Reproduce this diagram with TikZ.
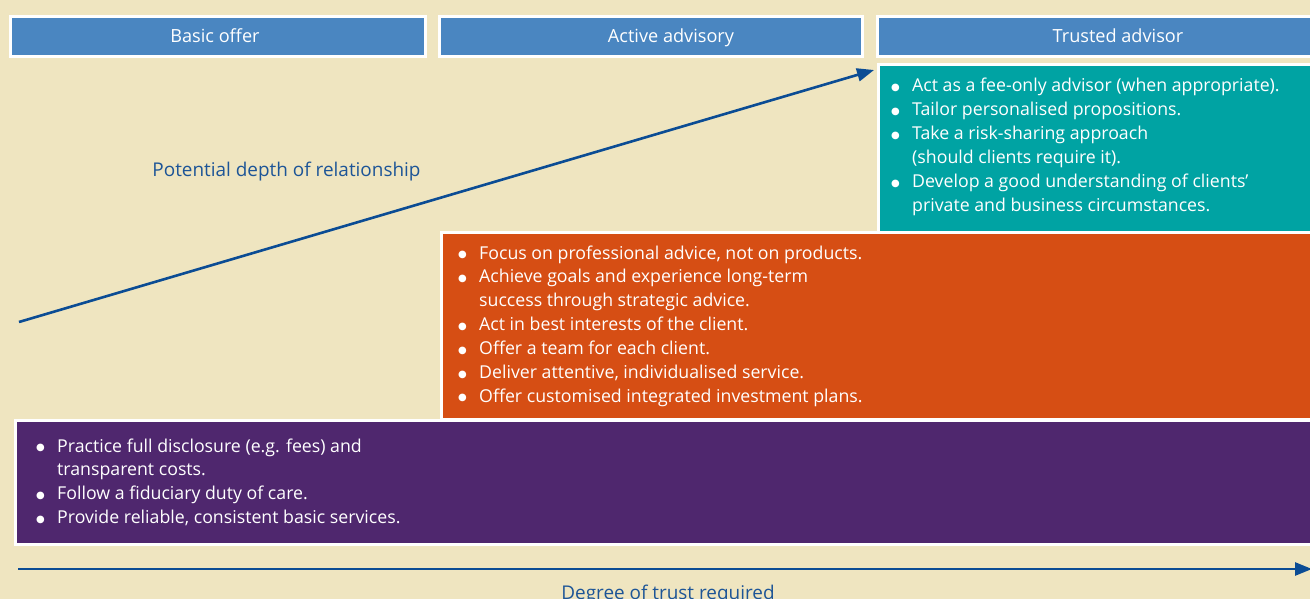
\documentclass[tikz,border=0pt]{standalone}
\usepackage{fontspec}
\setmainfont{Open Sans}
\newfontfamily\dejavu{DejaVu Sans}
\usetikzlibrary{arrows.meta}
\definecolor{bgbeige}{HTML}{EFE5C0}
\definecolor{hdrblue}{HTML}{4A86C1}
\definecolor{tealbox}{HTML}{00A3A3}
\definecolor{orangebox}{HTML}{D64E14}
\definecolor{purplebox}{HTML}{4F276E}
\definecolor{arrowblue}{HTML}{0B4C94}
\definecolor{labelblue}{HTML}{1D5597}
\newcommand{\bodyfont}{\fontsize{17.8}{24}\selectfont}
\newcommand{\hdrfont}{\fontsize{18.2}{24}\selectfont}
\newcommand{\lblfont}{\fontsize{19}{24}\selectfont}
\tikzset{
  panel/.style={draw=white, line width=3bp},
  header/.style={panel, fill=hdrblue},
  hdrtext/.style={text=white, font=\hdrfont, inner sep=0pt, anchor=base},
  listtext/.style={text=white, font=\bodyfont, inner sep=0pt, anchor=base west},
  axislabel/.style={text=labelblue, font=\lblfont, inner sep=0pt, anchor=base},
  trendarrow/.style={draw=arrowblue, line width=2.6bp, -{Triangle[length=17bp,width=13bp]}}
}
\newcommand{\blt}{\raisebox{1.5bp}{\dejavu\fontsize{10}{10}\selectfont ●}}
\newenvironment{blist}{\begin{tabular}[t]{@{}p{21bp}@{}l@{}}}{\end{tabular}}
\begin{document}
\begin{tikzpicture}[x=1bp,y=-1bp]
\useasboundingbox (0,0) rectangle (1310,599);
\fill[bgbeige] (0,0) rectangle (1310,599);
% headers
\draw[header] (10.5,16.5) rectangle (425.5,56.5);
\draw[header] (439.5,16.5) rectangle (862.5,56.5);
\draw[header] (877.5,16.5) rectangle (1320,56.5);
\node[hdrtext] (h1) at (215,43) {Basic offer};
\node[hdrtext] (h2) at (671,43) {Active advisory};
\node[hdrtext] (h3) at (1118,43) {Trusted advisor};
% panels
\draw[panel, fill=tealbox] (878.5,64.5) rectangle (1320,232.5);
\draw[panel, fill=orangebox] (441.5,232.5) rectangle (1320,419.5);
\draw[panel, fill=purplebox] (15.5,420.5) rectangle (1320,544.5);
% texts
\node[listtext] (tt) at (891,92) {\begin{blist}
\blt & Act as a fee-only advisor (when appropriate).\\
\blt & Tailor personalised propositions.\\
\blt & Take a risk-sharing approach\\
 & (should clients require it).\\
\blt & Develop a good understanding of clients’\\
 & private and business circumstances.
\end{blist}};
\node[listtext] (ot) at (458,259) {\begin{blist}
\blt & Focus on professional advice, not on products.\\
\blt & Achieve goals and experience long-term\\
 & success through strategic advice.\\
\blt & Act in best interests of the client.\\
\blt & Offer a team for each client.\\
\blt & Deliver attentive, individualised service.\\
\blt & Offer customised integrated investment plans.
\end{blist}};
\node[listtext] (pt) at (36,452) {\begin{blist}
\blt & Practice full disclosure (e.g. fees) and\\
 & transparent costs.\\
\blt & Follow a fiduciary duty of care.\\
\blt & Provide reliable, consistent basic services.
\end{blist}};
% arrows
\coordinate (dstart) at (19,322);
\coordinate (dend) at (874,70);
\draw[trendarrow] (dstart) -- (dend);
\coordinate (hstart) at (18,569);
\coordinate (hend) at (1312,569);
\draw[trendarrow] (hstart) -- (hend);
\node[axislabel] (depth) at (286.5,176.5) {Potential depth of relationship};
\node[axislabel] (trust) at (668,599) {Degree of trust required};
\end{tikzpicture}
\end{document}
